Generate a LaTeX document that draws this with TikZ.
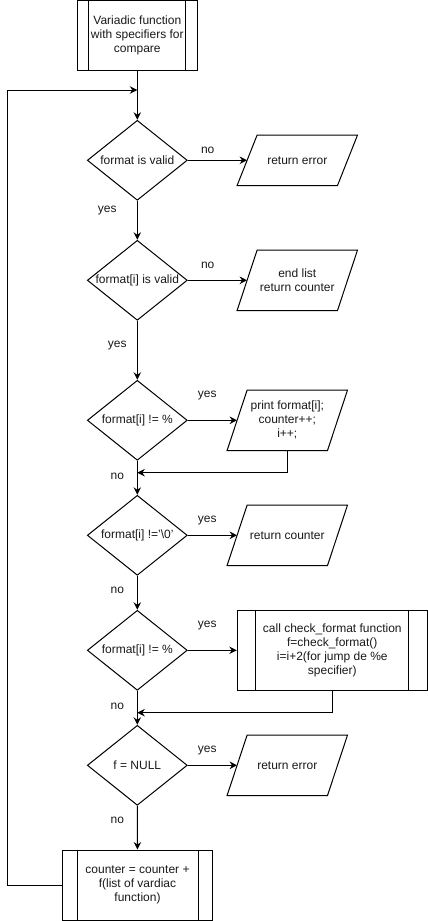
\documentclass[tikz,border=0pt]{standalone}
\usepackage{fontspec}
\setmainfont{Liberation Sans}
\usetikzlibrary{shapes.geometric,arrows.meta}

\tikzset{
  line/.style={draw=black, line width=1pt},
  flow/.style={line, -{Stealth[length=7.5pt,width=7.5pt,inset=2.5pt]}},
  txt/.style={font=\fontsize{12}{14}\selectfont, align=center, text=black!90},
  decision/.style={txt, diamond, line, inner sep=0pt,
    minimum width=100pt, minimum height=80pt},
  iobox/.style={txt, rectangle, inner sep=0pt, minimum width=120pt},
  subproc/.style={txt, rectangle, line, inner sep=0pt},
  lbl/.style={txt, inner sep=0pt}
}

% decision node whose text does not widen the diamond
\newcommand{\dtext}[1]{\makebox[0pt]{#1}}
% parallelogram outline around a rectangular node, top edge shifted right
\newcommand{\drawio}[1]{%
  \draw[line] ([xshift=20pt]#1.north west) -- (#1.north east)
    -- ([xshift=-20pt]#1.south east) -- (#1.south west) -- cycle;}
% double side bars of a predefined-process box
\newcommand{\bars}[2]{%
  \draw[line] ([xshift=#2]#1.north west) -- ([xshift=#2]#1.south west);
  \draw[line] ([xshift=-#2]#1.north east) -- ([xshift=-#2]#1.south east);}

\begin{document}
\begin{tikzpicture}[x=1pt, y=-1pt]
  \useasboundingbox (0,0) rectangle (428,921);

  % main column
  \node[subproc, minimum width=120pt, minimum height=70pt] (start) at (137.3,35.5)
    {Variadic function\\with specifiers for\\compare};
  \bars{start}{12pt}

  \node[decision] (d1) at (137.3,160.3) {\dtext{format is valid}};
  \node[decision] (d2) at (137.3,280.3) {\dtext{format[i] is valid}};
  \node[decision] (d3) at (137.3,420.3) {\dtext{format[i] != \%}};
  \node[decision] (d4) at (137.3,535.3) {\dtext{format[i] !='\textbackslash0'}};
  \node[decision] (d5) at (137.3,650.3) {\dtext{format[i] != \%}};
  \node[decision] (d6) at (137.3,765.3) {\dtext{f = NULL}};

  \node[subproc, minimum width=150pt, minimum height=70pt] (acc) at (137.5,885)
    {counter = counter +\\f(list of vardiac\\function)};
  \bars{acc}{15pt}

  % side outputs
  \node[iobox, minimum height=50pt] (p1) at (297.3,160.3) {return error};
  \drawio{p1}
  \node[iobox, minimum height=60pt] (p2) at (297.3,280.3) {end list\\return counter};
  \drawio{p2}
  \node[iobox, minimum height=60pt] (p3) at (287.3,420.3) {print format[i];\\counter++;\\i++;};
  \drawio{p3}
  \node[iobox, minimum height=60pt] (p4) at (287.3,535.3) {return counter};
  \drawio{p4}
  \node[subproc, minimum width=190pt, minimum height=80pt] (p5) at (332.3,650.3)
    {call check\_format function\\f=check\_format()\\i=i+2(for jump de \%e\\specifier)};
  \bars{p5}{19pt}
  \node[iobox, minimum height=60pt] (p6) at (287.3,765.3) {return error};
  \drawio{p6}

  % junction points on the main column
  \coordinate (j0) at (137.3,90);
  \coordinate (j3) at (137.3,472.7);
  \coordinate (j5) at (137.3,712.7);
  \coordinate (loopx) at (7.3,0);

  % vertical flow
  \draw[flow] (start) -- (d1);
  \draw[flow] (d1) -- (d2);
  \draw[flow] (d2) -- (d3);
  \draw[flow] (d3) -- (d4);
  \draw[flow] (d4) -- (d5);
  \draw[flow] (d5) -- (d6);
  \draw[flow] (d6) -- (acc);

  % branches to the right
  \draw[flow] (d1.east) -- ([xshift=10pt]p1.west);
  \draw[flow] (d2.east) -- ([xshift=10pt]p2.west);
  \draw[flow] (d3.east) -- ([xshift=10pt]p3.west);
  \draw[flow] (d4.east) -- ([xshift=10pt]p4.west);
  \draw[flow] (d5.east) -- (p5.west);
  \draw[flow] (d6.east) -- ([xshift=10pt]p6.west);

  % returns into the main column
  \draw[flow] (p3.south) |- (j3);
  \draw[flow] (p5.south) |- (j5);
  \draw[flow] (acc.west) -| (loopx |- j0) -- (j0);

  % branch labels
  \node[lbl] (l1) at (207.7,150.7) {no};
  \node[lbl] (l2) at (107.3,210.7) {yes};
  \node[lbl] (l3) at (207.7,265.7) {no};
  \node[lbl] (l4) at (117.3,345.7) {yes};
  \node[lbl] (l5) at (207.3,395.7) {yes};
  \node[lbl] (l6) at (117.3,476) {no};
  \node[lbl] (l7) at (207.3,521) {yes};
  \node[lbl] (l8) at (117.3,590.7) {no};
  \node[lbl] (l9) at (207.3,625.7) {yes};
  \node[lbl] (l10) at (117.3,706) {no};
  \node[lbl] (l11) at (207.3,751) {yes};
  \node[lbl] (l12) at (117.3,820.7) {no};
\end{tikzpicture}
\end{document}
